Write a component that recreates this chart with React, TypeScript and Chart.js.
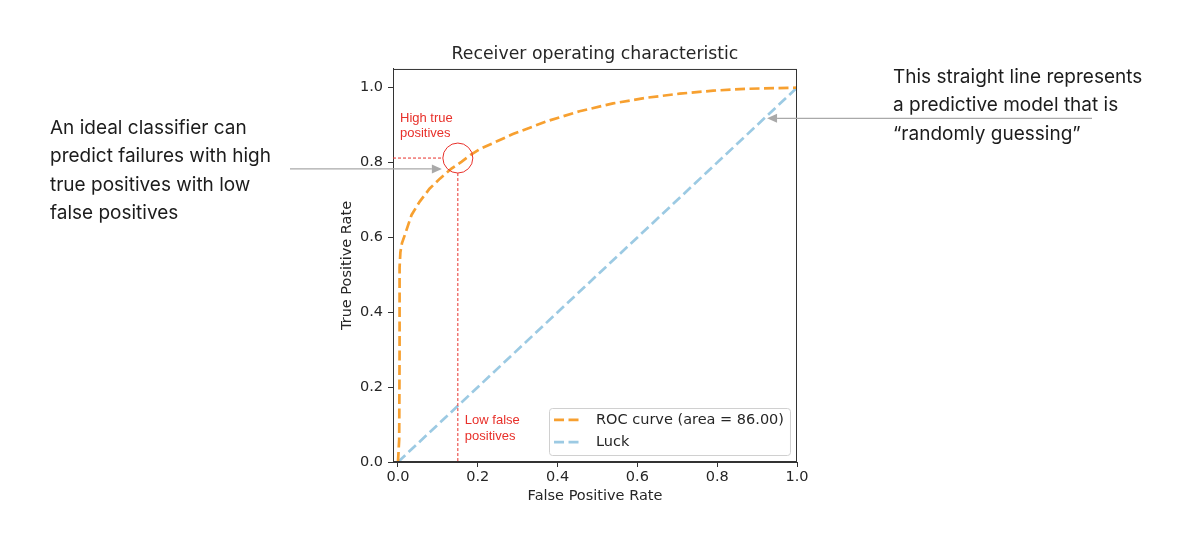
import React, { useEffect, useRef } from "react";
import { Chart, registerables } from "chart.js";

Chart.register(...registerables);

// ROC curve samples (false positive rate, true positive rate)
const rocFpr = [0, 0.003, 0.004, 0.004, 0.006, 0.01, 0.017, 0.034, 0.054, 0.079, 0.105, 0.134, 0.159, 0.184, 0.205, 0.288, 0.372, 0.455, 0.539, 0.622, 0.706, 0.79, 0.873, 1.0];
const rocTpr = [0, 0.06, 0.3, 0.52, 0.56, 0.585, 0.606, 0.66, 0.695, 0.73, 0.757, 0.784, 0.802, 0.822, 0.836, 0.876, 0.91, 0.937, 0.958, 0.973, 0.984, 0.992, 0.997, 1.0];

// Diagonal of a random guesser
const luckFpr = [0, 1];
const luckTpr = [0, 1];

const axisTicks = [0, 0.2, 0.4, 0.6, 0.8, 1.0];

const rocLabel = "ROC curve (area = 86.00)";
const luckLabel = "Luck";
const chartTitle = "Receiver operating characteristic";
const xTitle = "False Positive Rate";
const yTitle = "True Positive Rate";

// Highlighted operating point
const highlightFpr = 0.15;
const highlightTpr = 0.812;

// Where the gray pointer arrows end (data coordinates)
const leftArrowTip = { x: 0.11, y: 0.783 };
const rightArrowTip = { x: 0.925, y: 0.918 };

const highNote = ["High true", "positives"];
const lowNote = ["Low false", "positives"];
const leftNote = ["An ideal classifier can", "predict failures with high", "true positives with low", "false positives"];
const rightNote = ["This straight line represents", "a predictive model that is", "\u201crandomly guessing\u201d"];

const ORANGE = "#f7a030";
const BLUE = "#9ccae3";
const RED = "#e8302a";
const INK = "#262626";
const ARROW = "#a9a9a9";
const MPL_FONT = "'DejaVu Sans', sans-serif";
const TICK_SIZE = 14.5;

const toPoints = (xs: number[], ys: number[]) => xs.map((x, i) => ({ x, y: ys[i] }));

function arrow(ctx: CanvasRenderingContext2D, x0: number, y0: number, x1: number, y1: number) {
  const ang = Math.atan2(y1 - y0, x1 - x0);
  const len = 10;
  const half = 4.5;
  const bx = x1 - Math.cos(ang) * len;
  const by = y1 - Math.sin(ang) * len;
  ctx.beginPath();
  ctx.moveTo(x0, y0);
  ctx.lineTo(bx, by);
  ctx.stroke();
  ctx.beginPath();
  ctx.moveTo(x1, y1);
  ctx.lineTo(bx - Math.sin(ang) * half, by + Math.cos(ang) * half);
  ctx.lineTo(bx + Math.sin(ang) * half, by - Math.cos(ang) * half);
  ctx.closePath();
  ctx.fill();
}

const decorations = {
  id: "rocDecorations",
  afterDatasetsDraw(chart: any) {
    const { ctx, chartArea: a, scales } = chart;
    const xs = scales.x;
    const ys = scales.y;
    ctx.save();

    // frame on all four sides
    ctx.strokeStyle = "#333333";
    ctx.lineWidth = 1;
    ctx.strokeRect(a.left + 0.5, a.top + 0.5, a.right - a.left - 1, a.bottom - a.top - 1);

    // highlighted operating point
    const cx = xs.getPixelForValue(highlightFpr);
    const cy = ys.getPixelForValue(highlightTpr);
    const r = 15;
    ctx.strokeStyle = RED;
    ctx.lineWidth = 1;
    ctx.beginPath();
    ctx.arc(cx, cy, r, 0, Math.PI * 2);
    ctx.stroke();
    ctx.setLineDash([3, 2]);
    ctx.beginPath();
    ctx.moveTo(a.left, cy);
    ctx.lineTo(cx - r, cy);
    ctx.moveTo(cx, cy + r);
    ctx.lineTo(cx, a.bottom);
    ctx.stroke();
    ctx.setLineDash([]);

    ctx.fillStyle = RED;
    ctx.font = "13px 'Liberation Sans', Arial, sans-serif";
    ctx.textAlign = "left";
    ctx.textBaseline = "middle";
    highNote.forEach((t, i) => ctx.fillText(t, a.left + 7, cy - 40 + i * 15.5));
    lowNote.forEach((t, i) => ctx.fillText(t, cx + 7, a.bottom - 42 + i * 16));

    // legend box, lower right
    ctx.font = `${TICK_SIZE}px ${MPL_FONT}`;
    const tw = Math.max(ctx.measureText(rocLabel).width, ctx.measureText(luckLabel).width);
    const boxW = 47 + tw + 6;
    const boxH = 47;
    const right = a.right - 7;
    const bottom = a.bottom - 7.5;
    const left = right - boxW;
    const top = bottom - boxH;
    ctx.fillStyle = "rgba(255,255,255,0.85)";
    ctx.strokeStyle = "#d0d0d0";
    ctx.lineWidth = 1;
    ctx.beginPath();
    ctx.roundRect(Math.round(left) + 0.5, Math.round(top) + 0.5, boxW, boxH, 3);
    ctx.fill();
    ctx.stroke();
    const rows = [
      { label: rocLabel, color: ORANGE, y: top + 12.3 },
      { label: luckLabel, color: BLUE, y: top + 34.7 },
    ];
    rows.forEach((row) => {
      ctx.strokeStyle = row.color;
      ctx.lineWidth = 2.7;
      ctx.setLineDash([10, 4.5]);
      ctx.beginPath();
      ctx.moveTo(left + 5, row.y);
      ctx.lineTo(left + 32, row.y);
      ctx.stroke();
      ctx.setLineDash([]);
      ctx.fillStyle = INK;
      ctx.fillText(row.label, left + 47, row.y);
    });

    ctx.restore();
  },
  afterDraw(chart: any) {
    const { ctx, scales } = chart;
    const xs = scales.x;
    const ys = scales.y;
    ctx.save();
    ctx.strokeStyle = ARROW;
    ctx.fillStyle = ARROW;
    ctx.lineWidth = 1.2;
    const lx = xs.getPixelForValue(leftArrowTip.x);
    const ly = ys.getPixelForValue(leftArrowTip.y);
    arrow(ctx, 290, ly, lx, ly);
    const rx = xs.getPixelForValue(rightArrowTip.x);
    const ry = ys.getPixelForValue(rightArrowTip.y);
    arrow(ctx, 1092, ry, rx, ry);
    ctx.restore();
  },
};

const Y_AXIS_W = 60;
const X_AXIS_H = 45;

export default function App() {
  const canvasRef = useRef<HTMLCanvasElement | null>(null);

  useEffect(() => {
    const canvas = canvasRef.current;
    if (!canvas) return;
    const tickFont = { family: MPL_FONT, size: TICK_SIZE, lineHeight: 1.2 };
    const chart = new Chart(canvas, {
      type: "scatter",
      data: {
        datasets: [
          {
            label: rocLabel,
            data: toPoints(rocFpr, rocTpr),
            showLine: true,
            borderColor: ORANGE,
            borderWidth: 2.7,
            borderDash: [10, 4.5],
            pointRadius: 0,
            tension: 0,
          },
          {
            label: luckLabel,
            data: toPoints(luckFpr, luckTpr),
            showLine: true,
            borderColor: BLUE,
            borderWidth: 2.7,
            borderDash: [10, 4.5],
            pointRadius: 0,
          },
        ],
      },
      options: {
        animation: false,
        responsive: false,
        devicePixelRatio: 1,
        layout: {
          padding: { left: 393 - Y_AXIS_W, right: 1200 - 797, top: 44, bottom: 551 - 462 - X_AXIS_H },
        },
        plugins: {
          legend: { display: false },
          tooltip: { enabled: false },
          title: {
            display: true,
            text: chartTitle,
            fullSize: false,
            color: INK,
            font: { family: MPL_FONT, size: 17.3, weight: "normal", lineHeight: 1.2 },
            padding: { top: 0, bottom: 4.2 },
          },
        },
        scales: {
          x: {
            type: "linear",
            min: -0.0125,
            max: 1.0,
            afterBuildTicks: (s: any) => {
              s.ticks = axisTicks.map((v) => ({ value: v }));
            },
            afterFit: (s: any) => {
              s.height = X_AXIS_H;
            },
            ticks: {
              color: INK,
              font: tickFont,
              padding: 1.6,
              maxRotation: 0,
              callback: (v: any) => Number(v).toFixed(1),
            },
            grid: { drawOnChartArea: false, drawTicks: true, tickLength: 5, color: "#333333", tickColor: "#333333" },
            border: { display: true, color: "#333333" },
            title: { display: true, text: xTitle, color: INK, font: tickFont, padding: { top: 0, bottom: 1.6 } },
          },
          y: {
            type: "linear",
            min: 0,
            max: 1.05,
            afterBuildTicks: (s: any) => {
              s.ticks = axisTicks.map((v) => ({ value: v }));
            },
            afterFit: (s: any) => {
              s.width = Y_AXIS_W;
            },
            ticks: {
              color: INK,
              font: tickFont,
              padding: 5,
              callback: (v: any) => Number(v).toFixed(1),
            },
            grid: { drawOnChartArea: false, drawTicks: true, tickLength: 5, color: "#333333", tickColor: "#333333" },
            border: { display: true, color: "#333333" },
            title: { display: true, text: yTitle, color: INK, font: tickFont, padding: { top: 5.3, bottom: 0 } },
          },
        },
      },
      plugins: [decorations],
    });
    return () => chart.destroy();
  }, []);

  const noteStyle: React.CSSProperties = {
    position: "absolute",
    fontFamily: "Inter, 'Noto Sans', sans-serif",
    fontSize: 19,
    lineHeight: "28.5px",
    letterSpacing: "0px",
    color: "#1c1c1c",
    whiteSpace: "nowrap",
  };

  return (
    <div style={{ position: "absolute", left: 0, top: 0, width: 1200, height: 551, background: "#ffffff" }}>
      <canvas ref={canvasRef} width={1200} height={551} style={{ position: "absolute", left: 0, top: 0, width: 1200, height: 551 }} />
      <div style={{ ...noteStyle, left: 50, top: 113.75 }}>
        {leftNote.map((l) => (
          <div key={l}>{l}</div>
        ))}
      </div>
      <div style={{ ...noteStyle, left: 893, top: 62.75 }}>
        {rightNote.map((l) => (
          <div key={l}>{l}</div>
        ))}
      </div>
    </div>
  );
}
